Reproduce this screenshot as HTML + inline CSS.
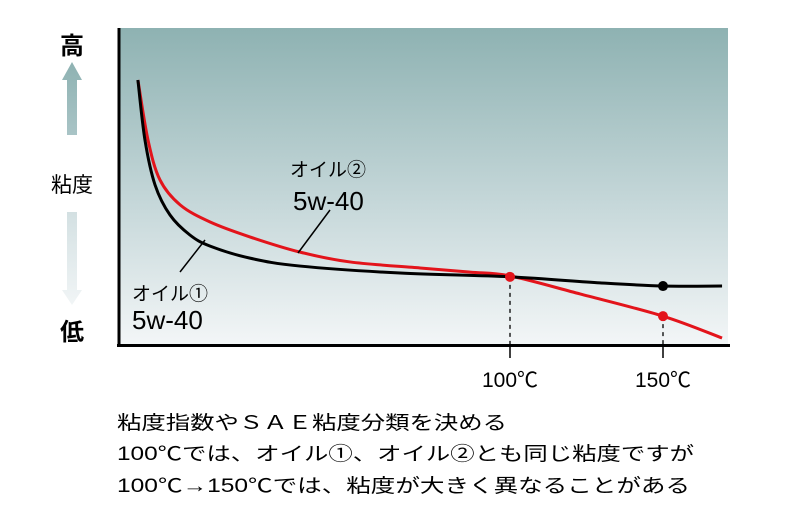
<!DOCTYPE html>
<html><head><meta charset="utf-8"><style>
html,body{margin:0;padding:0;background:#fff;}
svg{display:block;font-family:"Liberation Sans","Noto Sans CJK JP",sans-serif;}
</style></head><body>
<svg width="800" height="528" viewBox="0 0 800 528">
<defs>
<linearGradient id="bg" x1="0" y1="0" x2="0" y2="1">
<stop offset="0" stop-color="#8eb2b2"/><stop offset="0.55" stop-color="#c5d7d9"/><stop offset="1" stop-color="#f3f6f7"/>
</linearGradient>
<linearGradient id="up" x1="0" y1="0" x2="0" y2="1"><stop offset="0" stop-color="#8eb2b2"/><stop offset="1" stop-color="#a9c4c6"/></linearGradient>
<linearGradient id="dn" x1="0" y1="0" x2="0" y2="1"><stop offset="0" stop-color="#d3e0e2"/><stop offset="1" stop-color="#f1f5f6"/></linearGradient>
</defs>
<rect x="118" y="28" width="610" height="317" fill="url(#bg)"/>
<g id="series"></g>
<line x1="119" y1="28" x2="119" y2="347" stroke="#000" stroke-width="3"/>
<line x1="117" y1="345.5" x2="730" y2="345.5" stroke="#000" stroke-width="3"/>
<g id="ticks"></g>
<text x="72" y="54" font-size="24" font-weight="bold" text-anchor="middle">高</text>
<polygon points="62,80 72,62 82,80 77,80 77,135 67,135 67,80" fill="url(#up)"/>
<text x="72" y="192" font-size="21" text-anchor="middle">粘度</text>
<polygon points="67,212 77,212 77,290 82,290 72,305 62,290 67,290" fill="url(#dn)"/>
<text x="72" y="340" font-size="24" font-weight="bold" text-anchor="middle">低</text>
<line x1="298" y1="253" x2="330" y2="210" stroke="#000" stroke-width="1.5"/>
<text x="290" y="176" font-size="19">オイル②</text>
<text x="293" y="210" font-size="26">5w-40</text>
<line x1="205" y1="240" x2="180" y2="272" stroke="#000" stroke-width="1.5"/>
<text x="132" y="300" font-size="19">オイル①</text>
<text x="132" y="329" font-size="26">5w-40</text>
<g font-size="19">
<text x="117" y="429" textLength="390" lengthAdjust="spacingAndGlyphs">粘度指数やＳＡＥ粘度分類を決める</text>
<text x="117" y="460" textLength="577" lengthAdjust="spacingAndGlyphs">100℃では、オイル①、オイル②とも同じ粘度ですが</text>
<text x="117" y="492" textLength="573" lengthAdjust="spacingAndGlyphs">100℃→150℃では、粘度が大きく異なることがある</text>
</g>
</svg>
<script>
const oil1Temps=[-21.6,-19.3,-16.0,-11.1,-4.6,2.0,15.0,31.4,64.1,100,129.4,150,169.3];
const oil1Visc=[83.6,64.7,50.5,41.0,34.7,31.2,27.4,24.9,22.7,21.5,19.6,18.6,18.6];
const oil2Temps=[-21.6,-18.3,-14.4,-7.8,2.0,15.0,31.4,47.7,70.6,86.9,100,122.9,150,169.3];
const oil2Visc=[83.6,64.7,52.1,44.2,38.8,34.1,29.3,26.2,24.3,23.0,21.8,16.1,9.1,2.2];
const tickTemps=[100,150];
const tickLabels=["100℃","150℃"];
const markers=[{s:0,t:100},{s:1,t:150},{s:0,t:150}];
const NS="http://www.w3.org/2000/svg";
function xS(t){return 510+(t-100)*3.06;}
function yS(v){return 345-v*3.17;}
function path(ts,vs){
  const p=ts.map((t,i)=>[xS(t),yS(vs[i])]);
  let d="M"+p[0][0]+","+p[0][1];
  for(let i=0;i<p.length-1;i++){
    const p0=p[i-1]||p[i],p1=p[i],p2=p[i+1],p3=p[i+2]||p2;
    d+=" C"+(p1[0]+(p2[0]-p0[0])/6)+","+(p1[1]+(p2[1]-p0[1])/6)+" "+(p2[0]-(p3[0]-p1[0])/6)+","+(p2[1]-(p3[1]-p1[1])/6)+" "+p2[0]+","+p2[1];
  }
  return d;
}
function interp(ts,vs,t){for(let i=0;i<ts.length-1;i++){if(t>=ts[i]&&t<=ts[i+1]){return vs[i]+(vs[i+1]-vs[i])*(t-ts[i])/(ts[i+1]-ts[i]);}}return vs[vs.length-1];}
const g=document.getElementById("series");
const tg=document.getElementById("ticks");
tickTemps.forEach((t,i)=>{
  const dl=document.createElementNS(NS,"line");
  
  
  dl.setAttribute("x1",xS(t));dl.setAttribute("x2",xS(t));
  dl.setAttribute("y1",yS(Math.min(interp(oil1Temps,oil1Visc,t),interp(oil2Temps,oil2Visc,t))));dl.setAttribute("y2",345);
  dl.setAttribute("stroke","#000");dl.setAttribute("stroke-width","1.3");dl.setAttribute("stroke-dasharray","4,4");
  g.appendChild(dl);
  const tl=document.createElementNS(NS,"line");
  
  
  tl.setAttribute("x1",xS(t));tl.setAttribute("x2",xS(t));tl.setAttribute("y1",345);tl.setAttribute("y2",358);
  tl.setAttribute("stroke","#000");tl.setAttribute("stroke-width","1.5");
  tg.appendChild(tl);
  const tx=document.createElementNS(NS,"text");
  
  
  tx.setAttribute("x",xS(t));tx.setAttribute("y",387);tx.setAttribute("font-size","21");tx.setAttribute("text-anchor","middle");
  tx.textContent=tickLabels[i];
  tg.appendChild(tx);
});
const p1=document.createElementNS(NS,"path");


p1.setAttribute("d",path(oil1Temps,oil1Visc));p1.setAttribute("fill","none");p1.setAttribute("stroke","#000");p1.setAttribute("stroke-width","3");
const p2=document.createElementNS(NS,"path");


p2.setAttribute("d",path(oil2Temps,oil2Visc));p2.setAttribute("fill","none");p2.setAttribute("stroke","#e3141b");p2.setAttribute("stroke-width","3");
g.appendChild(p2);g.appendChild(p1);
markers.forEach(m=>{
  const ts=m.s===0?oil1Temps:oil2Temps,vs=m.s===0?oil1Visc:oil2Visc;
  const c=document.createElementNS(NS,"circle");
  
  
  c.setAttribute("cx",xS(m.t));c.setAttribute("cy",yS(interp(ts,vs,m.t)));c.setAttribute("r","5");
  c.setAttribute("fill",(m.t===100||m.s===1)?"#e3141b":"#000");
  g.appendChild(c);
});
</script>
</body></html>
